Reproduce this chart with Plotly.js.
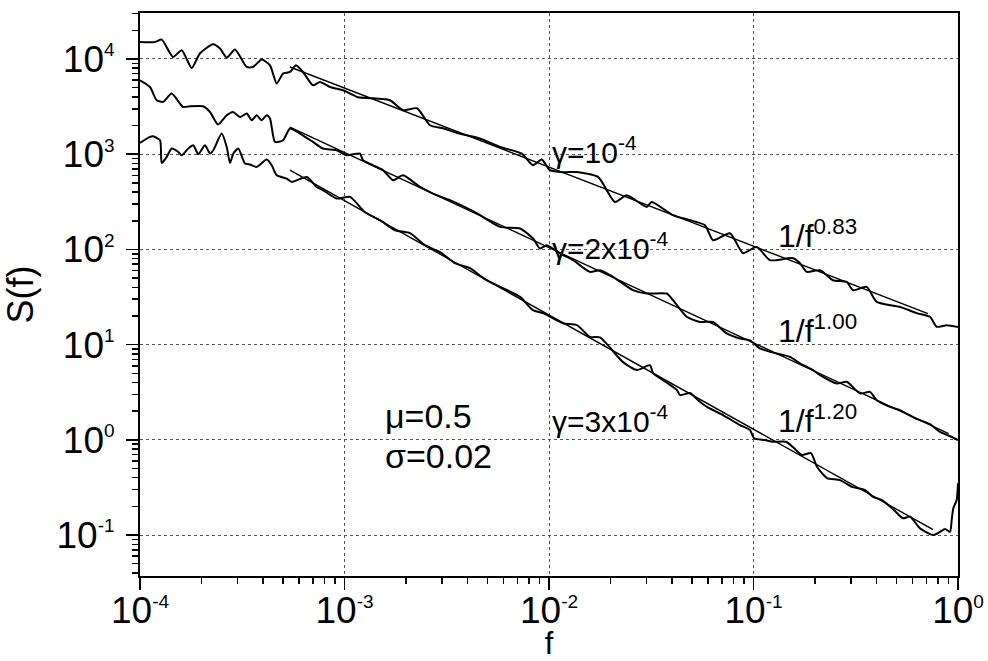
<!DOCTYPE html>
<html>
<head>
<meta charset="utf-8">
<script src="https://cdn.plot.ly/plotly-3.0.1.min.js"></script>
<style>html,body{margin:0;padding:0;background:#fff;}#chart{width:988px;height:661px;}</style>
</head>
<body>
<div id="chart"></div>
<script>
// ---- Curve 1 : gamma = 1e-4 ----
const f1 = [1.000e-4,1.184e-4,1.277e-4,1.450e-4,1.599e-4,1.790e-4,1.965e-4,2.275e-4,2.462e-4,2.655e-4,2.914e-4,3.325e-4,3.570e-4,3.937e-4,4.322e-4,4.661e-4,5.004e-4,5.414e-4,5.792e-4,6.268e-4,7.015e-4,7.591e-4,8.493e-4,9.833e-4,1.064e-3,1.164e-3,1.379e-3,1.669e-3,1.932e-3,2.262e-3,2.619e-3,3.032e-3,3.589e-3,4.546e-3,5.761e-3,7.356e-3,8.353e-3,9.211e-3,1.011e-2,1.171e-2,1.366e-2,1.737e-2,2.102e-2,2.399e-2,3.005e-2,3.178e-2,4.040e-2,4.893e-2,5.793e-2,6.339e-2,7.674e-2,8.887e-2,0.1037,0.1204,0.1561,0.1688,0.1820,0.2115,0.2448,0.2856,0.3067,0.3577,0.4003,0.5205,0.6281,0.7297,0.7867,0.8805,1.0];
const s1 = [15080,15080,15980,10500,12340,8046,11480,14270,12860,10340,12550,8241,8241,9856,8590,5518,7025,7303,8590,7303,5295,5736,5083,4692,4333,3962,3868,3685,2894,3038,2014,1873,1660,1471,1192,1016,766,879,679,646,651,577,315,371,279.5,315,228.7,202.6,179.6,125.0,148.0,91.3,106.3,77.1,80.9,71.7,58.1,60.5,47.5,45.6,37.3,40.4,28.1,24.9,21.4,19.6,15.4,16.0,15.3];

// ---- Curve 2 : gamma = 2e-4 ----
const f2 = [1.000e-4,1.119e-4,1.207e-4,1.296e-4,1.429e-4,1.623e-4,1.756e-4,2.033e-4,2.200e-4,2.407e-4,2.655e-4,2.849e-4,3.083e-4,3.325e-4,3.517e-4,3.721e-4,3.937e-4,4.165e-4,4.322e-4,4.573e-4,5.004e-4,5.414e-4,6.058e-4,7.015e-4,7.848e-4,9.161e-4,1.025e-3,1.191e-3,1.232e-3,1.543e-3,1.727e-3,1.932e-3,2.340e-3,2.709e-3,3.280e-3,4.346e-3,5.761e-3,7.215e-3,8.353e-3,9.036e-3,9.745e-3,1.132e-2,1.311e-2,1.586e-2,1.776e-2,2.056e-2,2.575e-2,3.005e-2,3.764e-2,4.040e-2,4.713e-2,5.475e-2,6.339e-2,7.396e-2,8.590e-2,9.614e-2,0.1076,0.1204,0.1509,0.1688,0.1954,0.2115,0.2552,0.2856,0.3317,0.3713,0.4003,0.4651,0.5205,0.6164,0.7297,0.8166,0.9140,1.0];
const s2 = [5975,5083,3685,3537,4333,3134,3188,3188,2777,2048,2564,2777,2461,2672,2272,2564,2272,2564,2367,1345,1401,1859,1648,1345,1147,1101,975,1016,864,679,533,601,453,386,329,245.9,172.3,165.8,130.2,102.2,110.7,90.6,77.1,58.1,60.5,51.5,37.3,34.4,34.4,29.3,19.6,17.3,17.3,13.1,11.6,11.1,9.12,8.40,7.44,6.35,5.40,4.78,3.91,4.07,3.07,3.19,2.61,2.22,2.05,1.69,1.46,1.21,1.09,0.994];

// ---- Curve 3 : gamma = 3e-4 ----
const f3 = [1.000e-4,1.119e-4,1.158e-4,1.253e-4,1.277e-4,1.351e-4,1.429e-4,1.539e-4,1.599e-4,1.722e-4,1.822e-4,1.928e-4,2.079e-4,2.200e-4,2.283e-4,2.509e-4,2.655e-4,2.755e-4,2.859e-4,3.024e-4,3.263e-4,3.451e-4,3.721e-4,4.165e-4,4.406e-4,4.661e-4,5.217e-4,5.518e-4,6.533e-4,7.311e-4,7.873e-4,9.161e-4,1.064e-3,1.260e-3,1.491e-3,1.766e-3,2.091e-3,2.475e-3,2.931e-3,3.470e-3,4.108e-3,4.864e-3,5.761e-3,7.215e-3,8.353e-3,9.347e-3,1.171e-2,1.370e-2,1.586e-2,1.776e-2,2.301e-2,2.693e-2,3.118e-2,3.226e-2,3.610e-2,4.224e-2,4.370e-2,4.893e-2,5.355e-2,5.925e-2,7.094e-2,8.590e-2,9.614e-2,0.1006,0.1138,0.1245,0.1442,0.1578,0.1726,0.1910,0.2044,0.2288,0.2649,0.3031,0.3510,0.3841,0.4250,0.4865,0.5383,0.5824,0.6519,0.7548,0.8166,0.8640,0.9140,0.9315,0.9487,0.9854,1.0];
const s3 = [1313,1518,1543,1401,809,936,1147,1056,975,1147,1242,999,1242,1016,1101,1648,1192,809,1016,1147,798,779,735,879,766,601,555,512,577,453,418,342,356,245.9,202.6,159.1,148.0,110.7,93.5,71.7,63.5,48.7,40.4,31.7,23.0,21.4,16.8,16.0,12.06,11.9,6.55,5.40,6.09,5.02,4.24,3.33,2.95,3.10,2.61,2.22,1.82,1.43,1.27,1.04,0.994,0.954,0.954,0.819,0.692,0.726,0.521,0.397,0.378,0.321,0.297,0.252,0.233,0.183,0.150,0.156,0.1175,0.100,0.108,0.1156,0.108,0.144,0.191,0.233,0.351];

// ---- Power-law fits (end points) ----
const fitF1 = [5.41e-4, 0.713], fitS1 = [8240, 21.2];
const fitF2 = [5.41e-4, 0.90],  fitS2 = [1930, 1.16];
const fitF3 = [5.41e-4, 0.755], fitS3 = [679, 0.114];

// ---- Ticks ----
const xTickVals = [1e-4, 1e-3, 1e-2, 1e-1, 1];
const xTickExp = ['-4', '-3', '-2', '-1', '0'];
const yTickVals = [0.1, 1, 10, 100, 1000, 10000];
const yTickExp = ['-1', '0', '1', '2', '3', '4'];

const FONT = 'Liberation Sans, Arial, sans-serif';
const pow = e => '10<sup><span style="font-size:19px">' + e + '</span></sup>';

const curveLine = {color: '#000', width: 2, shape: 'spline', smoothing: 0.6};
const fitLine = {color: '#000', width: 1.4};
const traces = [
  {x: f1, y: s1, mode: 'lines', line: curveLine},
  {x: f2, y: s2, mode: 'lines', line: curveLine},
  {x: f3, y: s3, mode: 'lines', line: curveLine},
  {x: fitF1, y: fitS1, mode: 'lines', line: fitLine},
  {x: fitF2, y: fitS2, mode: 'lines', line: fitLine},
  {x: fitF3, y: fitS3, mode: 'lines', line: fitLine}
];

const ann = (text, x, y, size) => ({
  text: text, xref: 'paper', yref: 'paper', x: x, y: y,
  xanchor: 'left', yanchor: 'middle', showarrow: false,
  font: {family: FONT, size: size, color: '#000'}
});

const axisCommon = {
  type: 'log',
  showline: true, linecolor: '#000', linewidth: 2, mirror: true,
  ticks: 'outside', ticklen: 12, tickwidth: 1.5, tickcolor: '#000',
  showgrid: true, gridcolor: '#555', griddash: 'dot', gridwidth: 1,
  zeroline: false,
  tickfont: {family: FONT, size: 37, color: '#000'},
  minor: {ticks: 'outside', ticklen: 6, tickwidth: 1.5, tickcolor: '#000', dtick: 'D1', showgrid: false},
  tickmode: 'array'
};

const layout = {
  width: 988, height: 661,
  margin: {l: 140, r: 30, t: 13, b: 85},
  paper_bgcolor: '#fff', plot_bgcolor: '#fff',
  showlegend: false,
  font: {family: FONT, color: '#000'},
  xaxis: Object.assign({}, axisCommon, {
    range: [-4, 0],
    tickvals: xTickVals, ticktext: xTickExp.map(pow),
    ticklabelstandoff: -11,
    title: {text: 'f', font: {family: FONT, size: 31, color: '#000'}, standoff: 18}
  }),
  yaxis: Object.assign({}, axisCommon, {
    range: [-1.43, 4.483],
    tickvals: yTickVals, ticktext: yTickExp.map(pow),
    ticklabelstandoff: 4,
    title: {text: 'S(f)', font: {family: FONT, size: 36, color: '#000'}, standoff: 14}
  }),
  annotations: [
    ann('γ=10<sup>-4</sup>', 0.501, 0.756, 30),
    ann('γ=2x10<sup>-4</sup>', 0.501, 0.586, 30),
    ann('γ=3x10<sup>-4</sup>', 0.501, 0.278, 30),
    ann('1/f<sup>0.83</sup>', 0.778, 0.608, 32),
    ann('1/f<sup>1.00</sup>', 0.778, 0.439, 32),
    ann('1/f<sup>1.20</sup>', 0.778, 0.279, 32),
    ann('μ=0.5', 0.297, 0.284, 34),
    ann('σ=0.02', 0.297, 0.213, 34)
  ]
};

Plotly.newPlot('chart', traces, layout, {displayModeBar: false, staticPlot: true});
</script>
</body>
</html>
